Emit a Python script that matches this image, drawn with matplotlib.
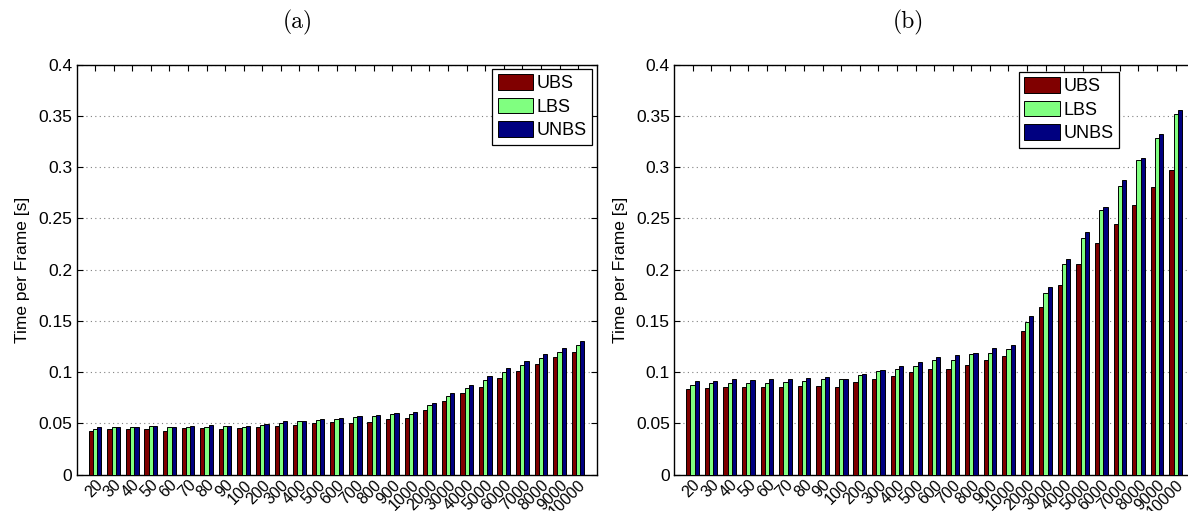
import matplotlib
matplotlib.use("Agg")
import matplotlib.pyplot as plt
import numpy as np

categories = ["20", "30", "40", "50", "60", "70", "80", "90",
              "100", "200", "300", "400", "500", "600", "700", "800", "900",
              "1000", "2000", "3000", "4000", "5000", "6000", "7000", "8000", "9000", "10000"]

a_ubs = [0.0429, 0.0442, 0.0442, 0.0442, 0.0429, 0.0451, 0.0451, 0.0442,
         0.0451, 0.0460, 0.0470, 0.0487, 0.0500, 0.0508, 0.0498, 0.0508, 0.0537,
         0.0547, 0.0632, 0.0717, 0.0795, 0.0853, 0.0941, 0.1013, 0.1078, 0.1143, 0.1199]
a_lbs = [0.0448, 0.0468, 0.0460, 0.0477, 0.0468, 0.0468, 0.0468, 0.0470,
         0.0468, 0.0487, 0.0506, 0.0523, 0.0529, 0.0541, 0.0557, 0.0567, 0.0586,
         0.0586, 0.0681, 0.0762, 0.0844, 0.0925, 0.1000, 0.1072, 0.1134, 0.1195, 0.1260]
a_unbs = [0.0468, 0.0468, 0.0468, 0.0470, 0.0468, 0.0477, 0.0480, 0.0477,
          0.0477, 0.0497, 0.0520, 0.0526, 0.0545, 0.0550, 0.0567, 0.0580, 0.0596,
          0.0606, 0.0700, 0.0795, 0.0876, 0.0958, 0.1036, 0.1104, 0.1176, 0.1235, 0.1306]

b_ubs = [0.0831, 0.0841, 0.0851, 0.0851, 0.0851, 0.0851, 0.0864, 0.0860,
         0.0851, 0.0899, 0.0932, 0.0961, 0.1000, 0.1029, 0.1026, 0.1071, 0.1120,
         0.1153, 0.1399, 0.1633, 0.1847, 0.2052, 0.2260, 0.2445, 0.2633, 0.2805, 0.2971]
b_lbs = [0.0877, 0.0890, 0.0890, 0.0893, 0.0893, 0.0899, 0.0909, 0.0935,
         0.0929, 0.0971, 0.1010, 0.1032, 0.1055, 0.1114, 0.1120, 0.1175, 0.1185,
         0.1221, 0.1490, 0.1766, 0.2052, 0.2305, 0.2578, 0.2818, 0.3065, 0.3279, 0.3520]
b_unbs = [0.0909, 0.0909, 0.0929, 0.0919, 0.0929, 0.0932, 0.0938, 0.0948,
          0.0929, 0.0977, 0.1016, 0.1055, 0.1100, 0.1143, 0.1169, 0.1185, 0.1230,
          0.1266, 0.1545, 0.1825, 0.2104, 0.2364, 0.2610, 0.2873, 0.3084, 0.3321, 0.3555]

series_names = ["UBS", "LBS", "UNBS"]
series_colors = ["#800000", "#80ff80", "#000080"]
yticks = [0, 0.05, 0.1, 0.15, 0.2, 0.25, 0.3, 0.35, 0.4]
ytick_labels = ["0", "0.05", "0.1", "0.15", "0.2", "0.25", "0.3", "0.35", "0.4"]
panel_titles = ["(a)", "(b)"]
ylabel = "Time per Frame [s]"

plt.rcParams['font.family'] = ['Liberation Sans', 'DejaVu Sans']

W, H = 1188, 511
fig = plt.figure(figsize=(W / 100, H / 100), dpi=100)

def px_axes(l, t, r, b):
    return fig.add_axes([l / W, 1 - b / H, (r - l) / W, (b - t) / H])

ax_a = px_axes(76.5, 64.5, 596.7, 474.5)
ax_b = px_axes(674.0, 64.5, 1194.2, 474.5)

x = np.arange(1, len(categories) + 1)
bw = 0.227

def draw(ax, data, legend_anchor, title, title_x):
    for i, (vals, name, col) in enumerate(zip(data, series_names, series_colors)):
        ax.bar(x + (i - 1) * bw, vals, width=bw, color=col, edgecolor='black',
               linewidth=0.7, label=name, zorder=3)
    ax.set_xlim(0, len(categories) + 1)
    ax.set_ylim(0, 0.4)
    ax.set_yticks(yticks)
    ax.set_yticklabels(ytick_labels, fontsize=12.5)
    ax.set_xticks(x)
    ax.set_xticklabels(categories, rotation=45, ha='right', va='top',
                       rotation_mode='anchor', fontsize=11.5)
    ax.tick_params(axis='both', direction='in', length=4, width=0.8,
                   top=True, right=True, pad=3)
    ax.tick_params(axis='x', pad=2)
    ax.yaxis.grid(True, linestyle=(0, (1, 3)), color='#808080', linewidth=0.8, zorder=0)
    ax.set_axisbelow(True)
    for s in ax.spines.values():
        s.set_linewidth(1.0)
    ax.set_ylabel(ylabel, fontsize=12.5, labelpad=6)
    leg = ax.legend(loc='upper right', bbox_to_anchor=legend_anchor, fontsize=13,
                    handlelength=1.95, handleheight=0.95, labelspacing=0.3,
                    handletextpad=0.2, borderpad=0.3, borderaxespad=0.0,
                    fancybox=False, framealpha=1, edgecolor='black')
    leg.get_frame().set_linewidth(0.9)
    fig.text(title_x / W, 1 - 22 / H, title, family='cmr10', fontsize=17,
             ha='center', va='center')

draw(ax_a, [a_ubs, a_lbs, a_unbs], (0.991, 0.989), panel_titles[0], 298)
draw(ax_b, [b_ubs, b_lbs, b_unbs], (0.855, 0.982), panel_titles[1], 908)

fig.savefig("out.png", dpi=100)
